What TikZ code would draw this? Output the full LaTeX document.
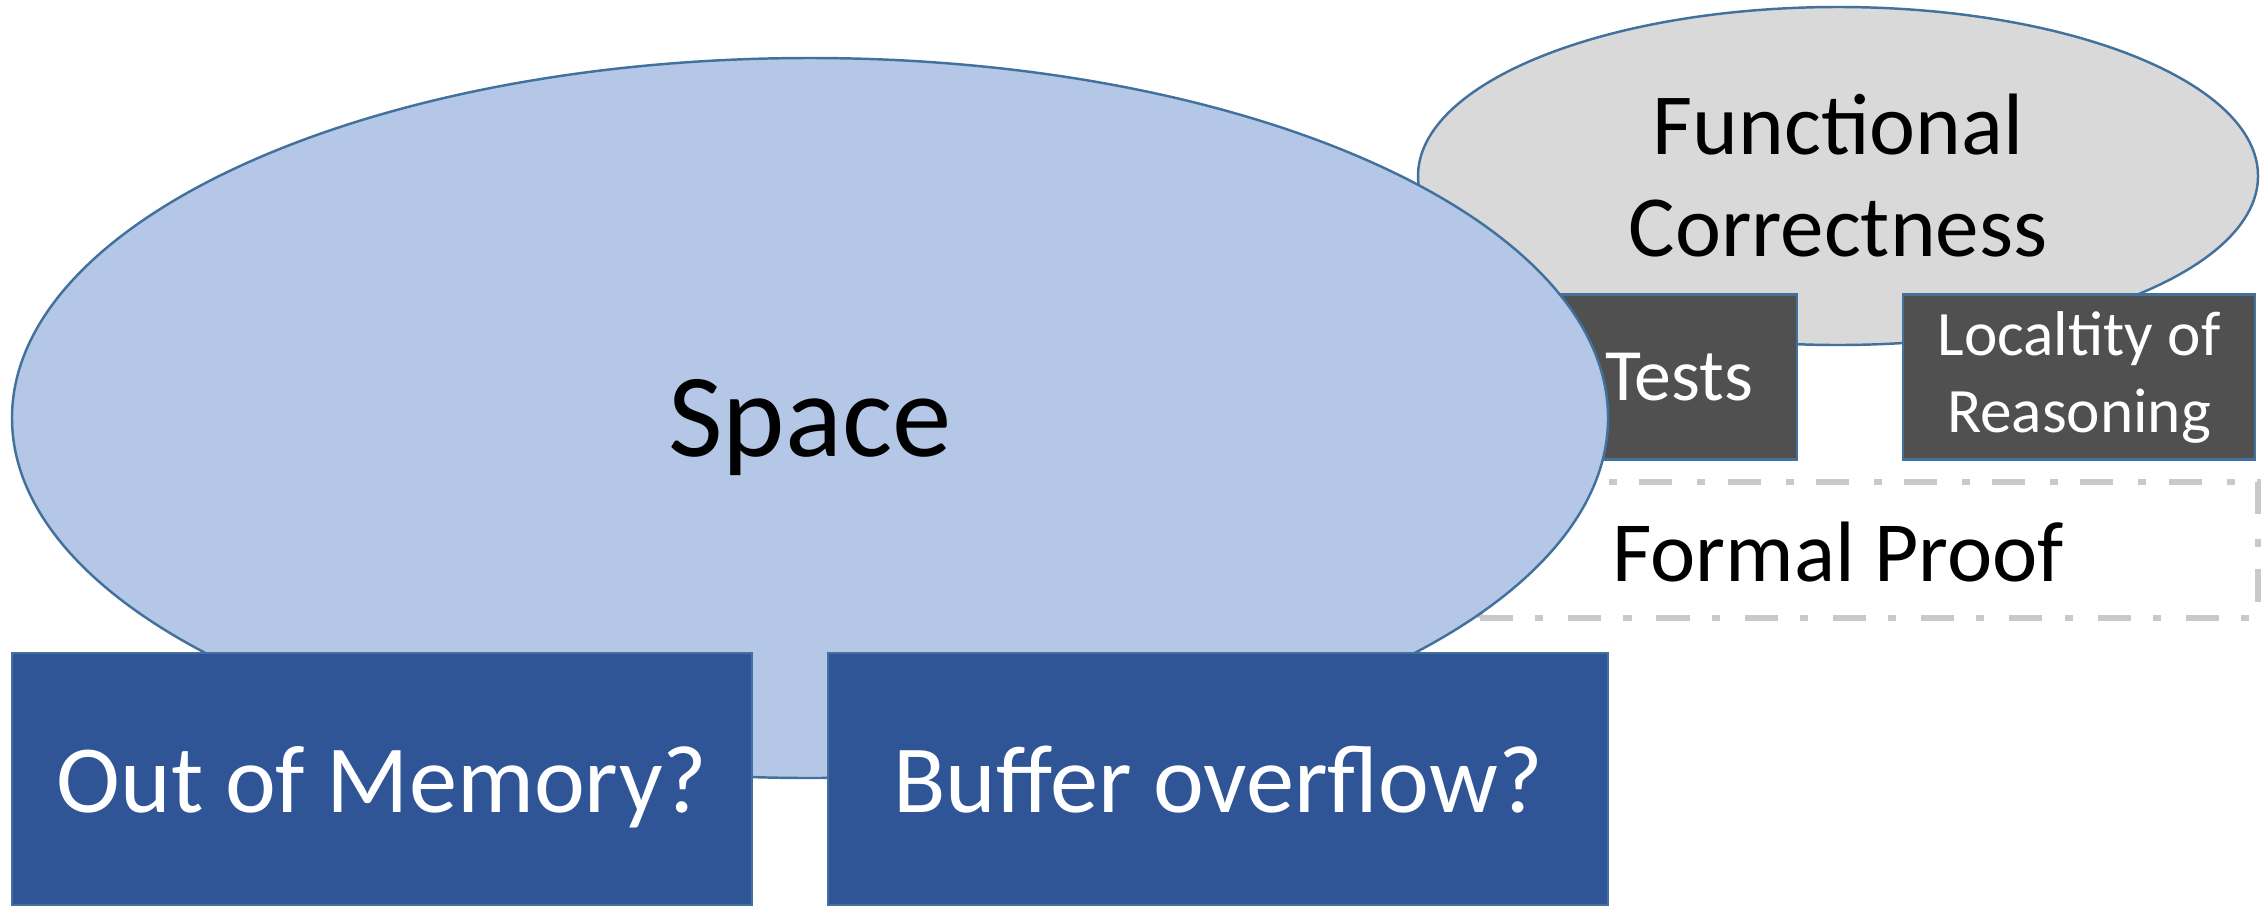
\documentclass[tikz,border=0pt]{standalone}
\usepackage{fontspec}
\setmainfont{Carlito}
\usetikzlibrary{shapes.geometric}
\definecolor{spacefill}{HTML}{B4C7E7}
\definecolor{officeblue}{HTML}{41719C}
\definecolor{darkbox}{HTML}{505050}
\definecolor{navybox}{HTML}{2F5597}
\definecolor{proofgray}{HTML}{C9C9C9}
\definecolor{funcgray}{HTML}{D9D9D9}
\begin{document}
\begin{tikzpicture}[
    blob/.style={ellipse, draw=officeblue, line width=0.7pt, inner sep=0pt},
    darkbox/.style={rectangle, draw=officeblue, fill=darkbox, line width=0.7pt, text=white, align=center, inner sep=0pt},
    navybox/.style={rectangle, draw=officeblue, fill=navybox, line width=0.7pt, text=white, inner sep=0pt,
      text depth=0pt, font=\fontsize{27.4}{32}\selectfont},
    proofbox/.style={rectangle, draw=proofgray, line width=1.7pt,
      dash pattern=on 9.4pt off 6.3pt on 2.3pt off 7.1pt, inner sep=0pt}
  ]
  \useasboundingbox (0,0) rectangle (22.67,9.05);
  \node[blob, fill=funcgray, minimum width=8.40cm, minimum height=3.38cm, align=center,
    font=\fontsize{24.8}{29}\selectfont] (func) at (18.38,7.29) {Functional\\Correctness};
  \node[darkbox, minimum width=2.36cm, minimum height=1.65cm, font=\fontsize{21}{25}\selectfont] (tests) at (16.79,5.28) {Tests};
  \node[darkbox, minimum width=3.52cm, minimum height=1.65cm, font=\fontsize{18}{21.9}\selectfont] (local) at (20.79,5.28) {Localtity of\\Reasoning};
  \node[proofbox, minimum width=7.78cm, minimum height=1.36cm] (proof) at (18.69,3.55) {};
  \node[font=\fontsize{24.4}{29}\selectfont] (prooftext) at (18.38,3.53) {Formal Proof};
  \node[blob, fill=spacefill, minimum width=15.96cm, minimum height=7.20cm, text depth=0pt,
    font=\fontsize{33.8}{40}\selectfont] (space) at (8.10,4.87) {Space};
  \node[navybox, minimum width=7.40cm, minimum height=2.52cm] (oom) at (3.82,1.26) {Out of Memory?};
  \node[navybox, minimum width=7.80cm, minimum height=2.52cm] (overflow) at (12.18,1.26) {Buffer overflow?};
\end{tikzpicture}
\end{document}
